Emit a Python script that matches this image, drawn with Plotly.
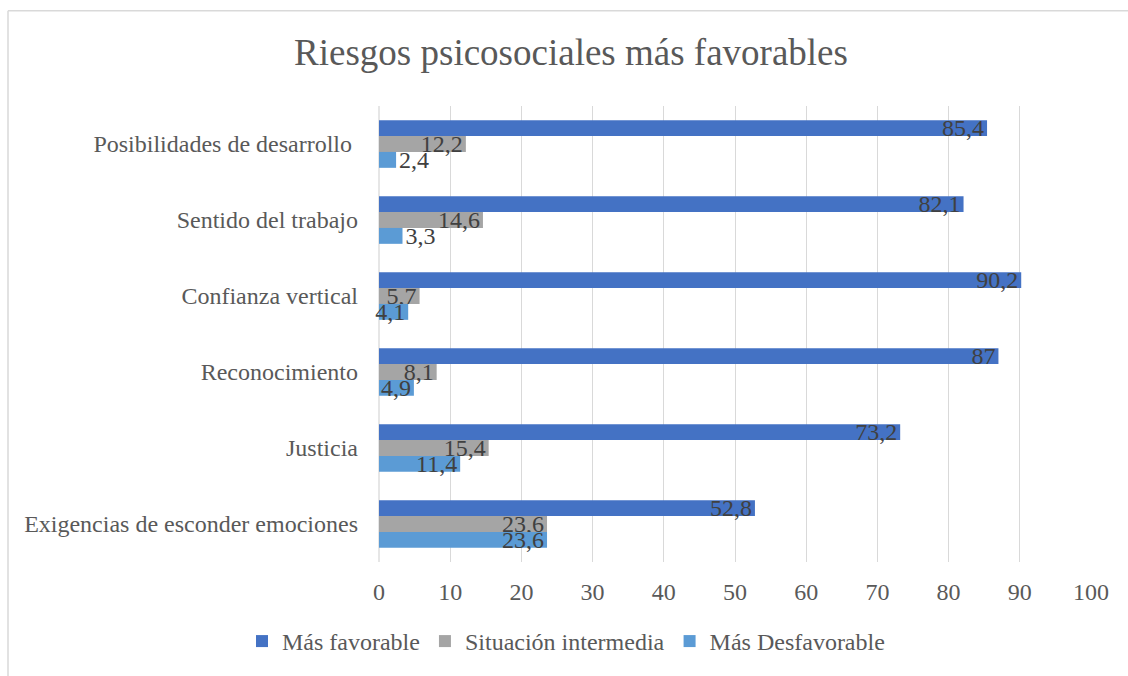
import plotly.graph_objects as go

categories = [
    "Posibilidades de desarrollo ",
    "Sentido del trabajo",
    "Confianza vertical",
    "Reconocimiento",
    "Justicia",
    "Exigencias de esconder emociones",
]
series_names = ["Más favorable", "Situación intermedia", "Más Desfavorable"]
mas_favorable = [85.4, 82.1, 90.2, 87, 73.2, 52.8]
situacion_intermedia = [12.2, 14.6, 5.7, 8.1, 15.4, 23.6]
mas_desfavorable = [2.4, 3.3, 4.1, 4.9, 11.4, 23.6]
colors = ["#4472C4", "#A5A5A5", "#5B9BD5"]
x_ticks = list(range(0, 101, 10))

FONT = "'Liberation Serif', 'Times New Roman', serif"
W, H = 1128, 676
L, R, T, B = 379, 1091, 106, 565


def fmt(v):
    return f"{v:g}".replace(".", ",")


fig = go.Figure()
for name, vals, col in zip(series_names,
                           [mas_favorable, situacion_intermedia, mas_desfavorable],
                           colors):
    fig.add_trace(go.Bar(
        y=categories, x=vals, name=name, orientation="h",
        marker=dict(color=col, line=dict(width=0)),
        text=[fmt(v) for v in vals],
        textposition=["outside" if v < 4 else "inside" for v in vals],
        insidetextanchor="end",
        constraintext="none",
        cliponaxis=False,
        textfont=dict(family=FONT, size=24, color="#404040"),
        insidetextfont=dict(family=FONT, size=24, color="#404040"),
        outsidetextfont=dict(family=FONT, size=24, color="#404040"),
        textangle=0,
        hoverinfo="skip",
    ))


def px_x(p):
    return (p - L) / (R - L)


def px_y(p):
    return (B - p) / (B - T)


fig.update_layout(
    width=W, height=H,
    margin=dict(l=L, r=W - R, t=T, b=H - B),
    paper_bgcolor="white", plot_bgcolor="white",
    barmode="group", bargap=0.373, bargroupgap=0,
    font=dict(family=FONT, color="#595959", size=24),
    title=dict(text="Riesgos psicosociales más favorables",
               font=dict(family=FONT, size=37, color="#595959"),
               xref="container", yref="container",
               x=571 / W, xanchor="center", y=1 - 52 / H, yanchor="middle"),
    xaxis=dict(range=[0, 100], tickvals=x_ticks, showgrid=True,
               gridcolor="#d9d9d9", gridwidth=1.3, zeroline=False,
               showline=False, ticks="", ticklabelstandoff=13,
               tickfont=dict(family=FONT, size=24, color="#595959")),
    yaxis=dict(autorange="reversed", showgrid=False, zeroline=False,
               showline=False, ticks="", ticklabelstandoff=20,
               tickfont=dict(family=FONT, size=24, color="#595959")),
    legend=dict(orientation="h", x=px_x(566), xanchor="center",
                y=px_y(645), yanchor="middle",
                font=dict(family=FONT, size=24, color="#595959"),
                itemclick=False, bgcolor="rgba(0,0,0,0)"),
    showlegend=True,
    shapes=[
        dict(type="line", xref="paper", yref="paper",
             x0=px_x(8), x1=px_x(8), y0=px_y(10), y1=px_y(700),
             line=dict(color="#d9d9d9", width=1.5)),
        dict(type="line", xref="paper", yref="paper",
             x0=px_x(8), x1=px_x(1140), y0=px_y(10), y1=px_y(10),
             line=dict(color="#d9d9d9", width=1.5)),
        dict(type="line", xref="paper", yref="paper",
             x0=0, x1=0, y0=0, y1=1, layer="below",
             line=dict(color="#d9d9d9", width=1.3)),
    ],
)

fig.write_html("out.html", config={"displayModeBar": False},
               post_script="document.body.style.margin='0';document.body.style.overflow='hidden';")
